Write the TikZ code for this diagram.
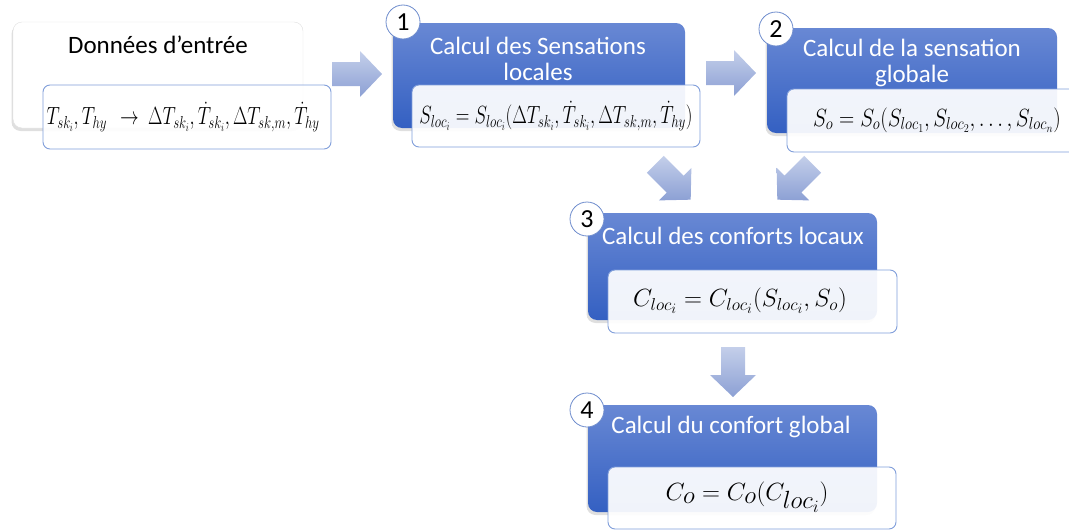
\documentclass[tikz,border=0pt]{standalone}
\usepackage{fontspec}
\setmainfont{Carlito}
\usetikzlibrary{shadows}
\definecolor{bluetop}{RGB}{104,136,212}
\definecolor{bluebot}{RGB}{52,96,194}
\definecolor{fborder}{RGB}{128,158,218}
\definecolor{arrlight}{RGB}{196,207,234}
\definecolor{arrdark}{RGB}{140,160,212}
\definecolor{cborder}{RGB}{110,140,205}
\tikzset{
  stepbox/.style={rounded corners=9pt, top color=bluetop, bottom color=bluebot, draw=none,
    drop shadow={opacity=0.25, shadow xshift=-1.5pt, shadow yshift=-3pt}},
  inbox/.style={rounded corners=9pt, fill=white, draw=black!12,
    drop shadow={opacity=0.25, shadow xshift=-1.5pt, shadow yshift=-3pt}},
  fbox/.style={rounded corners=7pt, fill=white, fill opacity=0.93, draw=fborder, line width=0.9pt},
  numc/.style={circle, fill=white, draw=cborder, line width=0.8pt, minimum size=34pt, inner sep=0pt,
    font=\fontsize{26}{26}\selectfont},
  ttl/.style={text=white, align=center, font=\fontsize{25}{26}\selectfont},
  frm/.style={inner sep=0pt, font=\fontsize{24}{26}\selectfont},
  barrow/.pic={\shade[top color=arrlight, bottom color=arrdark]
     (-25,-12) -- (3,-12) -- (3,-23) -- (25,0) -- (3,23) -- (3,12) -- (-25,12) -- cycle;}
}
\begin{document}
\begin{tikzpicture}[x=1pt,y=-1pt]
\useasboundingbox (0,0) rectangle (1069,530);
\clip (0,0) rectangle (1069,530);
% input box
\node[inbox, minimum width=290pt, minimum height=106pt] (b0) at (158,75) {};
\node[font=\fontsize{25}{26}\selectfont] (t0) at (158,45) {Données d’entrée};
\node[fbox, minimum width=288pt, minimum height=64pt] (f0) at (187,117) {};
\node[frm] (m0) at (183,117)
  {\scalebox{0.75}[1]{$T_{sk_i},T_{hy}\ \ \rightarrow\ \Delta T_{sk_i},\dot T_{sk_i},\Delta T_{sk,m},\dot T_{hy}$}};
% step 1
\node[stepbox, minimum width=292pt, minimum height=105pt] (b1) at (539,75.5) {};
\node[ttl] (t1) at (538,59) {Calcul des Sensations\\locales};
\node[fbox, minimum width=288pt, minimum height=62pt] (f1) at (556,116) {};
\node[frm] (m1) at (556,116)
  {\scalebox{0.76}[1]{$S_{loc_i}=S_{loc_i}(\Delta T_{sk_i},\dot T_{sk_i},\Delta T_{sk,m},\dot T_{hy})$}};
\node[numc] (n1) at (403,22) {1};
% step 2
\node[stepbox, minimum width=290pt, minimum height=105pt] (b2) at (912,80.5) {};
\node[ttl] (t2) at (912,63) {Calcul de la sensation\\globale};
\node[fbox, minimum width=300pt, minimum height=63pt] (f2) at (937,120.5) {};
\node[frm] (m2) at (937,120)
  {\scalebox{0.85}[1]{$S_o=S_o\bigl(S_{loc_1},S_{loc_2},\dots,S_{loc_n}\bigr)$}};
\node[numc] (n2) at (776,29) {2};
% step 3
\node[stepbox, minimum width=289pt, minimum height=107pt] (b3) at (732.5,266.5) {};
\node[ttl] (t3) at (733,236) {Calcul des conforts locaux};
\node[fbox, minimum width=289pt, minimum height=63pt] (f3) at (752.5,301.5) {};
\node[frm, font=\fontsize{27}{28}\selectfont] (m3) at (740,301)
  {$C_{loc_i}=C_{loc_i}(S_{loc_i},S_o)$};
\node[numc] (n3) at (587,219) {3};
% step 4
\node[stepbox, minimum width=289pt, minimum height=107pt] (b4) at (732.5,458.5) {};
\node[ttl] (t4) at (731,427) {Calcul du confort global};
\node[fbox, minimum width=288pt, minimum height=62pt] (f4) at (752,498) {};
\node[frm, font=\fontsize{33}{34}\selectfont] (m4) at (747,497)
  {$C_o=C_o\bigl(C_{loc_i}\bigr)$};
\node[numc] (n4) at (587,410) {4};
% block arrows
\pic at (357,74) {barrow};
\pic at (731,73) {barrow};
\pic[rotate=-45] at (673,182) {barrow};
\pic[rotate=-135] at (795,182) {barrow};
\pic[rotate=-90] at (733,372) {barrow};
\end{tikzpicture}
\end{document}
